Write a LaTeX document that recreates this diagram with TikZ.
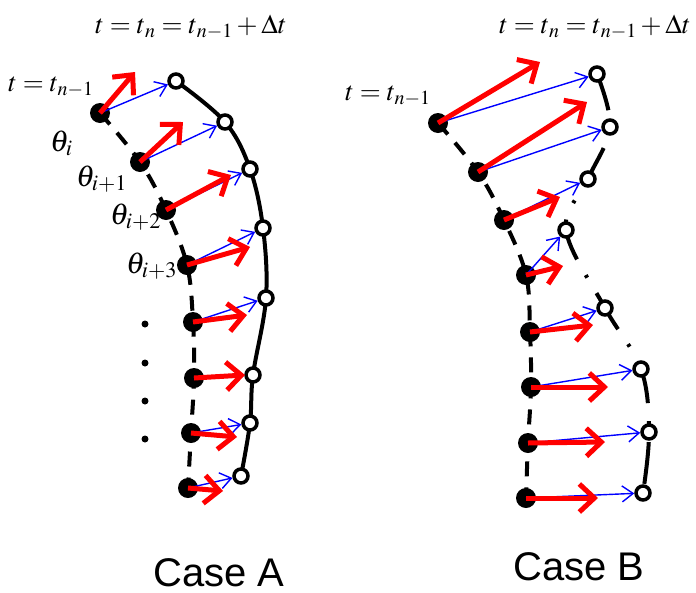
\documentclass[tikz,border=0pt]{standalone}
\usepackage{mathptmx}
\usepackage{fontspec}
\setsansfont{Liberation Sans}
\usetikzlibrary{arrows.meta}
\tikzset{
  fillpt/.style={circle, fill=black, minimum size=20pt, inner sep=0pt},
  openpt/.style={circle, draw=black, line width=3.5pt, fill=white, minimum size=14pt, inner sep=0pt},
  redarr/.style={draw=red, line width=5pt, -{Straight Barb[length=15pt,width=28pt]}},
  bluearr/.style={draw=blue, line width=1.4pt, -{Straight Barb[length=11pt,width=16pt]}},
  solidcurve/.style={draw=black, line width=4pt},
  dashcurve/.style={draw=black, line width=4pt, dash pattern=on 15pt off 11pt},
  dashdotcurve/.style={draw=black, line width=4pt, dash pattern=on 42pt off 18pt on 3pt off 18pt, dash phase=4pt},
  lbl/.style={inner sep=0pt, font=\fontsize{27}{32}\selectfont},
  thlbl/.style={inner sep=0pt, font=\fontsize{30}{36}\selectfont},
  caselbl/.style={inner sep=0pt, font=\sffamily\fontsize{40}{46}\selectfont},
  vdot/.style={circle, fill=black, minimum size=7pt, inner sep=0pt}
}
\begin{document}
\begin{tikzpicture}[x=1pt,y=-1pt]
\useasboundingbox (0,0) rectangle (696,592);
% ---------- Case A ----------
\coordinate (Af1) at (100,113);
\coordinate (Af2) at (140,162);
\coordinate (Af3) at (166,210);
\coordinate (Af4) at (187,265);
\coordinate (Af5) at (193,322);
\coordinate (Af6) at (194,378);
\coordinate (Af7) at (191,433);
\coordinate (Af8) at (188,488);
\coordinate (Ao1) at (176,81);
\coordinate (Ao2) at (225,122);
\coordinate (Ao3) at (250,169);
\coordinate (Ao4) at (263,228);
\coordinate (Ao5) at (266,298);
\coordinate (Ao6) at (253,375);
\coordinate (Ao7) at (250,423);
\coordinate (Ao8) at (241,476);
\draw[solidcurve] plot[smooth, tension=0.6] coordinates {(Ao1) (Ao2) (Ao3) (Ao4) (Ao5) (Ao6) (Ao7) (Ao8)};
\draw[dashcurve] plot[smooth, tension=0.6] coordinates {(Af1) (Af2) (Af3) (Af4) (Af5) (Af6) (Af7) (Af8)};
\foreach \i in {1,...,8} {
  \node[fillpt] (AF\i) at (Af\i) {};
  \node[openpt] (AO\i) at (Ao\i) {};
}
\foreach \i in {1,...,8} {
  \draw[bluearr] (AF\i.center) -- (AO\i);
}
\coordinate (Ar1) at (135,72);
\coordinate (Ar2) at (183,122);
\coordinate (Ar3) at (231,175);
\coordinate (Ar4) at (250,247);
\coordinate (Ar5) at (247,315);
\coordinate (Ar6) at (245,375);
\coordinate (Ar7) at (237,437);
\coordinate (Ar8) at (223,491);
\foreach \i in {1,...,8} {
  \draw[redarr] (AF\i.center) -- (Ar\i);
}
\node[lbl, anchor=base west] (Atop) at (95,33) {$t=t_{\kern1.5pt n}=t_{\kern1.5pt n-1}+\Delta t$};
\node[lbl, anchor=base west] (Aprev) at (8,91) {$t=t_{\kern1pt n-1}$};
\node[thlbl, anchor=base west] (th1) at (50,151) {$\theta_{i}$};
\node[thlbl, anchor=base west] (th2) at (76,186) {$\theta_{i+1}$};
\node[thlbl, anchor=base west] (th3) at (110,224) {$\theta_{i+2}$};
\node[thlbl, anchor=base west] (th4) at (126,273) {$\theta_{i+3}$};
\node[vdot] (d1) at (145,324) {};
\node[vdot] (d2) at (145,363) {};
\node[vdot] (d3) at (145,401) {};
\node[vdot] (d4) at (145,439) {};
\node[caselbl, anchor=base west] (caseA) at (153,586) {Case A};
% ---------- Case B ----------
\coordinate (Bf1) at (438,123);
\coordinate (Bf2) at (478,172);
\coordinate (Bf3) at (504,220);
\coordinate (Bf4) at (526,275);
\coordinate (Bf5) at (530,332);
\coordinate (Bf6) at (531,387);
\coordinate (Bf7) at (528,443);
\coordinate (Bf8) at (526,498);
\coordinate (Bo1) at (597,74);
\coordinate (Bo2) at (610,127);
\coordinate (Bo3) at (588,179);
\coordinate (Bo4) at (566,230);
\coordinate (Bo5) at (605,308);
\coordinate (Bo6) at (641,369);
\coordinate (Bo7) at (649,432);
\coordinate (Bo8) at (643,493);
\draw[dashdotcurve] plot[smooth, tension=0.6] coordinates {(Bo1) (Bo2) (Bo3) (Bo4) (Bo5) (Bo6) (Bo7) (Bo8)};
\draw[dashcurve] plot[smooth, tension=0.6] coordinates {(Bf1) (Bf2) (Bf3) (Bf4) (Bf5) (Bf6) (Bf7) (Bf8)};
\foreach \i in {1,...,8} {
  \node[fillpt] (BF\i) at (Bf\i) {};
  \node[openpt] (BO\i) at (Bo\i) {};
}
\foreach \i in {1,...,8} {
  \draw[bluearr] (BF\i.center) -- (BO\i);
}
\coordinate (Br1) at (540,62);
\coordinate (Br2) at (587,102);
\coordinate (Br3) at (560,197);
\coordinate (Br4) at (563,266);
\coordinate (Br5) at (593,325);
\coordinate (Br6) at (608,387);
\coordinate (Br7) at (605,442);
\coordinate (Br8) at (598,498);
\foreach \i in {1,...,8} {
  \draw[redarr] (BF\i.center) -- (Br\i);
}
\node[lbl, anchor=base west] (Btop) at (499,33) {$t=t_{\kern1.5pt n}=t_{\kern1.5pt n-1}+\Delta t$};
\node[lbl, anchor=base west] (Bprev) at (345,100) {$t=t_{\kern1pt n-1}$};
\node[caselbl, anchor=base west] (caseB) at (513,580) {Case B};
\end{tikzpicture}
\end{document}
